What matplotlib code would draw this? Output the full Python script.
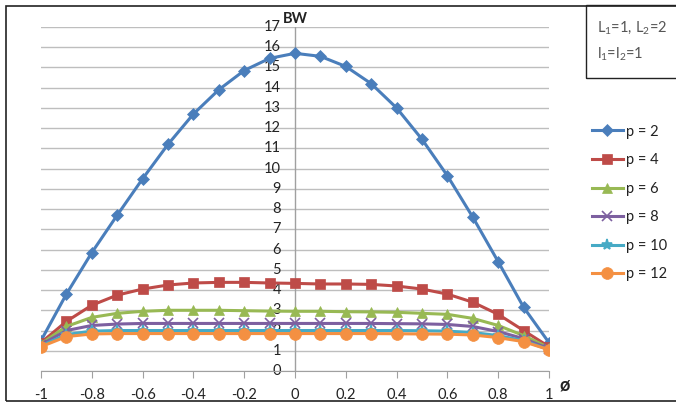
import matplotlib
matplotlib.use("Agg")
import matplotlib.pyplot as plt
from matplotlib.patches import Rectangle

phi = [-1.0, -0.9, -0.8, -0.7, -0.6, -0.5, -0.4, -0.3, -0.2, -0.1, 0.0,
       0.1, 0.2, 0.3, 0.4, 0.5, 0.6, 0.7, 0.8, 0.9, 1.0]
bw_p2 = [1.5, 3.8, 5.85, 7.7, 9.5, 11.2, 12.7, 13.9, 14.85, 15.45, 15.7,
         15.55, 15.05, 14.2, 13.0, 11.45, 9.65, 7.6, 5.4, 3.15, 1.4]
bw_p4 = [1.4, 2.45, 3.25, 3.75, 4.05, 4.25, 4.35, 4.38, 4.38, 4.35, 4.33,
         4.3, 4.3, 4.28, 4.2, 4.05, 3.8, 3.4, 2.8, 2.0, 1.2]
bw_p6 = [1.35, 2.2, 2.65, 2.85, 2.95, 3.0, 3.0, 3.0, 2.98, 2.96, 2.95,
         2.95, 2.93, 2.92, 2.9, 2.85, 2.8, 2.6, 2.25, 1.75, 1.15]
bw_p8 = [1.3, 2.0, 2.25, 2.32, 2.35, 2.35, 2.35, 2.35, 2.35, 2.35, 2.35,
         2.35, 2.35, 2.35, 2.34, 2.33, 2.3, 2.2, 1.95, 1.6, 1.1]
bw_p10 = [1.25, 1.8, 1.97, 2.0, 2.0, 2.0, 2.0, 2.0, 2.0, 2.0, 2.0,
          2.0, 2.0, 2.0, 2.0, 1.99, 1.97, 1.9, 1.75, 1.5, 1.05]
bw_p12 = [1.2, 1.7, 1.83, 1.85, 1.85, 1.85, 1.85, 1.85, 1.85, 1.85, 1.85,
          1.85, 1.85, 1.85, 1.84, 1.83, 1.82, 1.78, 1.65, 1.45, 1.05]
series_labels = ["p = 2", "p = 4", "p = 6", "p = 8", "p = 10", "p = 12"]
x_ticks = [-1, -0.8, -0.6, -0.4, -0.2, 0, 0.2, 0.4, 0.6, 0.8, 1]
x_tick_labels = ["-1", "-0.8", "-0.6", "-0.4", "-0.2", "0", "0.2", "0.4", "0.6", "0.8", "1"]
y_ticks = list(range(0, 18))

plt.rcParams['font.family'] = ['Lato', 'DejaVu Sans']
plt.rcParams['mathtext.fontset'] = 'custom'
plt.rcParams['mathtext.rm'] = 'Lato'
plt.rcParams['mathtext.it'] = 'Lato'

FS = 10.5
fig = plt.figure(figsize=(6.76, 4.05), dpi=100)
ax = fig.add_axes([41/676, 1-371/405, (549-41)/676, (371-27)/405])

colors = ["#4A7EBB", "#BE4B48", "#98B954", "#7D60A0", "#46AAC5", "#F49042"]
markers = ["D", "s", "^", "x", "*", "o"]
msizes = [6.5, 7.5, 7.5, 7, 8, 8.5]
data = [bw_p2, bw_p4, bw_p6, bw_p8, bw_p10, bw_p12]
handles = []
for y, c, m, ms, lab in zip(data, colors, markers, msizes, series_labels):
    kw = dict(color=c, marker=m, markersize=ms, linewidth=2.2, label=lab, zorder=3)
    if m in ("x", "*"):
        kw.update(markeredgewidth=1.2, markerfacecolor=c, markeredgecolor=c)
    else:
        kw.update(markeredgewidth=0.5)
    h, = ax.plot(phi, y, **kw)
    handles.append(h)

ax.set_xlim(-1, 1)
ax.set_ylim(0, 17)
ax.set_yticks(y_ticks)
ax.set_xticks(x_ticks)
ax.set_xticklabels(x_tick_labels)
for s in ["top", "right", "left"]:
    ax.spines[s].set_visible(False)
ax.spines["bottom"].set_color("#A0A0A0")
ax.spines["bottom"].set_position(("data", 0))
ax.grid(axis="y", color="#BEBEBE", linewidth=1.0, zorder=0)
ax.axvline(0, color="#A0A0A0", linewidth=1.0, zorder=1)
ax.tick_params(axis="x", direction="out", length=5, color="#A0A0A0",
               labelsize=FS, pad=7, labelcolor="#222222")
ax.tick_params(axis="y", length=0, labelleft=False)
for t in y_ticks:
    ax.text(-0.055, t, str(t), ha="right", va="center", fontsize=FS,
            color="#222222", zorder=2)
ax.text(0.0, 17.4, "BW", ha="center", va="center", fontsize=FS,
        fontweight="bold", color="#222222")
ax.text(1.04, -0.7, "ø", ha="left", va="center", fontsize=13,
        fontweight="bold", color="#222222")
ax.set_axisbelow(True)

leg = fig.legend(handles=handles, loc="center left",
                 bbox_to_anchor=(592/676, 1-203/405), frameon=False,
                 fontsize=FS, handlelength=2.1, labelspacing=1.0,
                 handletextpad=0.25, borderaxespad=0, borderpad=0)
for t in leg.get_texts():
    t.set_color("#222222")

# parameter box
fig.patches.append(Rectangle((586/676, 1-78/405), 92/676, 73/405,
                             transform=fig.transFigure, fill=False,
                             edgecolor="#222222", linewidth=1.0))
fig.text(597/676, 1-28/405, r"L$_1$=1, L$_2$=2", fontsize=FS,
         color="#555555", va="center")
fig.text(597/676, 1-54/405, r"l$_1$=l$_2$=1", fontsize=FS,
         color="#555555", va="center")

# outer chart border
fig.patches.append(Rectangle((6/676, 1-401/405), 680/676, 395/405,
                             transform=fig.transFigure, fill=False,
                             edgecolor="#222222", linewidth=1.2))

fig.savefig("out.png", dpi=100)
